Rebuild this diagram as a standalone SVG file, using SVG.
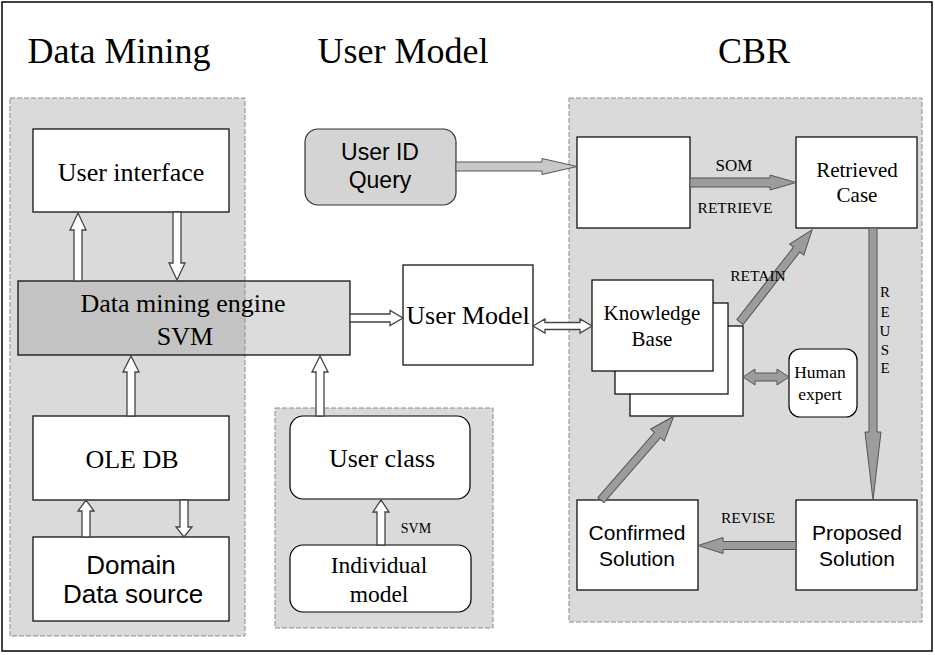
<svg xmlns="http://www.w3.org/2000/svg" width="935" height="655" viewBox="0 0 935 655">
<style>
.serif{font-family:"Liberation Serif","Times New Roman",serif;fill:#000}
.sans{font-family:"Liberation Sans",Arial,sans-serif;fill:#000}
.panel{fill:#dadada;stroke:#8a8a8a;stroke-width:1;stroke-dasharray:5 2}
.box{fill:#fff;stroke:#000;stroke-width:1.2}
.hollow{fill:#fff;stroke:#444;stroke-width:1.3}
.gray{fill:#9c9c9c;stroke:#555;stroke-width:1}
.lgray{fill:#c8c8c8;stroke:#555;stroke-width:1}
</style>
<rect x="0" y="0" width="935" height="655" fill="#fff"/>
<rect x="2" y="2" width="930" height="649" fill="none" stroke="#000" stroke-width="1.5"/>

<g id="titles">
<text class="serif" x="119" y="63" font-size="36" text-anchor="middle">Data Mining</text>
<text class="serif" x="403" y="63" font-size="36" text-anchor="middle">User Model</text>
<text class="serif" x="754" y="63" font-size="36" text-anchor="middle">CBR</text>
</g>

<g id="panels">
<rect class="panel" x="10" y="98" width="235" height="538"/>
<rect class="panel" x="275" y="408" width="218" height="220"/>
<rect class="panel" x="569" y="98" width="353" height="524"/>
</g>

<g id="user-interface">
<rect class="box" x="33" y="129" width="196" height="83"/>
<text class="serif" x="131" y="181" font-size="26" text-anchor="middle">User interface</text>
</g>

<g id="data-mining-engine">
<rect x="18" y="281" width="332" height="74" fill="#9a9a9a" fill-opacity="0.35" stroke="#000" stroke-width="1.2"/>
<text class="serif" x="183" y="312" font-size="26" text-anchor="middle">Data mining engine</text>
<text class="serif" x="185" y="345" font-size="26" text-anchor="middle">SVM</text>
</g>

<g id="ole-db">
<rect class="box" x="33" y="416" width="196" height="84"/>
<text class="serif" x="132" y="468" font-size="26" text-anchor="middle">OLE DB</text>
</g>

<g id="domain-data-source">
<rect class="box" x="33" y="537" width="196" height="84"/>
<text class="sans" x="131" y="574" font-size="26" text-anchor="middle">Domain</text>
<text class="sans" x="133" y="603" font-size="26" text-anchor="middle">Data source</text>
</g>

<g id="user-id-query">
<rect x="305" y="129" width="151" height="76" rx="13" fill="#d4d4d4" stroke="#333" stroke-width="1.2"/>
<text class="sans" x="380" y="160" font-size="23" text-anchor="middle">User ID</text>
<text class="sans" x="380" y="188" font-size="23" text-anchor="middle">Query</text>
</g>

<g id="user-model">
<rect class="box" x="403" y="265" width="130" height="100"/>
<text class="serif" x="468" y="324" font-size="26" text-anchor="middle">User Model</text>
</g>

<g id="user-class">
<rect class="box" x="290" y="416" width="180" height="83" rx="13"/>
<text class="serif" x="382" y="467" font-size="26" text-anchor="middle">User class</text>
</g>

<g id="individual-model">
<rect class="box" x="290" y="545" width="181" height="67" rx="13"/>
<text class="serif" x="379" y="573" font-size="23.5" text-anchor="middle">Individual</text>
<text class="serif" x="379" y="602" font-size="23.5" text-anchor="middle">model</text>
</g>

<g id="som-input">
<rect class="box" x="577" y="137" width="113" height="91"/>
</g>

<g id="retrieved-case">
<rect class="box" x="796" y="137" width="121" height="91"/>
<text class="serif" x="857" y="177" font-size="21" text-anchor="middle">Retrieved</text>
<text class="serif" x="857" y="202" font-size="21" text-anchor="middle">Case</text>
</g>

<g id="knowledge-base">
<rect class="box" x="630" y="326" width="113" height="90"/>
<rect class="box" x="615" y="303" width="113" height="91"/>
<rect class="box" x="592" y="280" width="121" height="91"/>
<text class="serif" x="652" y="320" font-size="21" text-anchor="middle">Knowledge</text>
<text class="serif" x="652" y="346" font-size="21" text-anchor="middle">Base</text>
</g>

<g id="human-expert">
<rect class="box" x="789" y="349" width="68" height="68" rx="11"/>
<text class="serif" x="820" y="378" font-size="17.5" text-anchor="middle">Human</text>
<text class="serif" x="820" y="400" font-size="17.5" text-anchor="middle">expert</text>
</g>

<g id="confirmed-solution">
<rect class="box" x="577" y="500" width="121" height="90"/>
<text class="sans" x="637" y="540" font-size="21" text-anchor="middle">Confirmed</text>
<text class="sans" x="637" y="566" font-size="21" text-anchor="middle">Solution</text>
</g>

<g id="proposed-solution">
<rect class="box" x="796" y="500" width="121" height="90"/>
<text class="sans" x="857" y="540" font-size="21" text-anchor="middle">Proposed</text>
<text class="sans" x="857" y="566" font-size="21" text-anchor="middle">Solution</text>
</g>

<g id="connectors">
<polygon class="hollow" points="74,281 74,230 70,230 78,213 86,230 82,230 82,281"/>
<polygon class="hollow" points="173,212 181,212 181,263 185,263 177,280 169,263 173,263"/>
<polygon class="hollow" points="127,416 127,372 123,372 131,356 139,372 135,372 135,416"/>
<polygon class="hollow" points="82,537 82,511 78,511 86,500 94,511 90,511 90,537"/>
<polygon class="hollow" points="180,500 188,500 188,527 192,527 184,537 176,527 180,527"/>
<polygon class="hollow" points="316,416 316,372 312,372 320,356 328,372 324,372 324,416"/>
<polygon class="hollow" points="377,545 377,512 373,512 381,500 389,512 385,512 385,545"/>
<polygon class="hollow" points="350,314 390,314 390,310.5 403,318 390,325.5 390,322 350,322"/>
<polygon class="hollow" stroke="#555" stroke-width="1.6" points="533,326 545,319 545,322.5 580,322.5 580,319 592,326 580,333 580,329.5 545,329.5 545,333"/>
<polygon class="lgray" points="456,162 542,162 542,158.5 577,166.5 542,174.5 542,171 456,171"/>
<polygon class="gray" points="690,178 770,178 770,175 796,182.5 770,190 770,187 690,187"/>
<polygon class="gray" points="869,228 877,228 877,432 881,432 873,500 865,432 869,432"/>
<polygon class="gray" points="796,541.5 723,541.5 723,537.5 698,545.5 723,553.5 723,549.5 796,549.5"/>
<polygon class="gray" points="743,377 755,369 755,373 777,373 777,369 789,377 777,385 777,381 755,381 755,385"/>
<polygon class="gray" points="0,-4 92,-4 92,-9 117,0 92,9 92,4 0,4" transform="translate(740,322) rotate(-51.95)"/>
<polygon class="gray" points="0,-4 86,-4 86,-9 111,0 86,9 86,4 0,4" transform="translate(601,500) rotate(-49)"/>
</g>

<g id="labels">
<text class="serif" x="416" y="533" font-size="14" text-anchor="middle">SVM</text>
<text class="serif" x="734" y="171" font-size="17" text-anchor="middle">SOM</text>
<text class="serif" x="735" y="213" font-size="15.5" text-anchor="middle">RETRIEVE</text>
<text class="serif" x="758" y="281" font-size="15.5" text-anchor="middle">RETAIN</text>
<text class="serif" x="748" y="523" font-size="15.5" text-anchor="middle">REVISE</text>
<text class="serif" font-size="15" text-anchor="middle"><tspan x="885" y="297">R</tspan><tspan x="885" y="317">E</tspan><tspan x="885" y="336">U</tspan><tspan x="885" y="355">S</tspan><tspan x="885" y="373">E</tspan></text>
</g>
</svg>
